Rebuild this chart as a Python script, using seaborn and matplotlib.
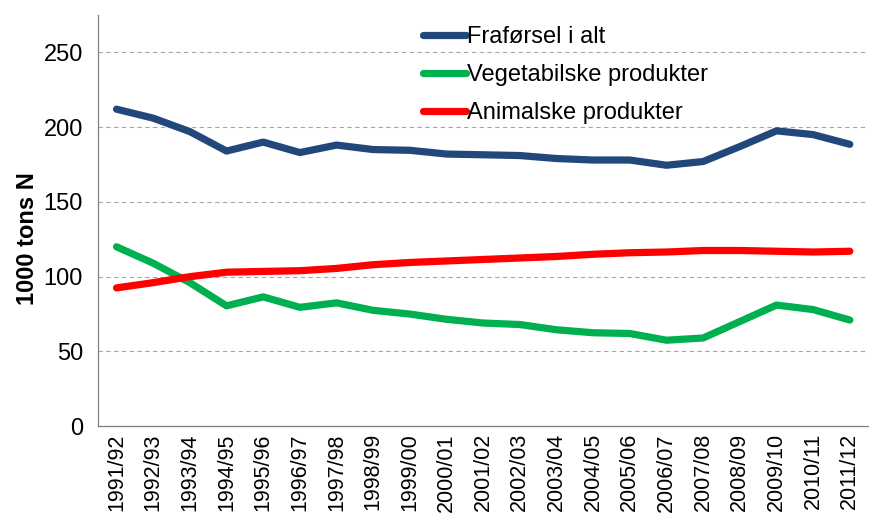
import numpy as np
import pandas as pd
import matplotlib
matplotlib.use("Agg")
import matplotlib.pyplot as plt
import seaborn as sns
from matplotlib.ticker import FixedLocator

seasons = [
    "1991/92", "1992/93", "1993/94", "1994/95", "1995/96", "1996/97", "1997/98",
    "1998/99", "1999/00", "2000/01", "2001/02", "2002/03", "2003/04", "2004/05",
    "2005/06", "2006/07", "2007/08", "2008/09", "2009/10", "2010/11", "2011/12",
]
fraforsel = [212, 206, 197, 184, 190, 183, 188, 185, 184.5, 182, 181.5, 181, 179, 178, 178, 174.5, 177, 187, 197.5, 195, 188.5]
vegetabilske = [120, 109, 96, 80.5, 86.5, 79.5, 82.5, 77.5, 75, 71.5, 69, 68, 64.5, 62.5, 62, 57.5, 59, 70, 81, 78, 71]
animalske = [92.5, 96, 100, 103, 103.5, 104, 105.5, 108, 109.5, 110.5, 111.5, 112.5, 113.5, 115, 116, 116.5, 117.5, 117.5, 117, 116.5, 117]

series_names = ["Fraførsel i alt", "Vegetabilske produkter", "Animalske produkter"]
colors = ["#22487B", "#00B050", "#FF0000"]

rows = []
for name, vals in zip(series_names, [fraforsel, vegetabilske, animalske]):
    for i, v in enumerate(vals):
        rows.append({"pos": i, "season": seasons[i], "value": v, "serie": name})
df = pd.DataFrame(rows)

sns.set_style("white")
plt.rcParams["font.family"] = ["Liberation Sans", "DejaVu Sans"]
plt.rcParams["text.color"] = "black"
plt.rcParams["axes.labelcolor"] = "black"
plt.rcParams["xtick.labelcolor"] = "black"
plt.rcParams["ytick.labelcolor"] = "black"

fig = plt.figure(figsize=(8.69, 5.16), dpi=100)
ax = fig.add_axes([0.113, 0.174, 0.886, 0.797])

sns.lineplot(data=df, x="pos", y="value", hue="serie", hue_order=series_names,
             palette=colors, linewidth=5.2, ax=ax, legend=False,
             solid_capstyle="round")

ax.set_xlim(-0.5, len(seasons) - 0.5)
ax.set_ylim(0, 275)
ax.set_yticks([0, 50, 100, 150, 200, 250])
ax.set_xticks(range(len(seasons)))
ax.set_xticklabels(seasons, rotation=90, fontsize=15.5)
ax.xaxis.set_minor_locator(FixedLocator(np.arange(-0.5, len(seasons), 1)))
ax.tick_params(axis="x", which="major", length=0, pad=5)
ax.tick_params(axis="x", which="minor", length=6, width=0.8, color="#808080", direction="out")
ax.tick_params(axis="y", length=7, width=0.8, color="#808080", direction="out", labelsize=17, pad=4)
ax.yaxis.grid(True, linestyle=(0, (4, 3)), color="#A6A6A6", linewidth=0.8)
ax.set_axisbelow(True)

for s in ["top", "right"]:
    ax.spines[s].set_visible(False)
for s in ["left", "bottom"]:
    ax.spines[s].set_color("#808080")
    ax.spines[s].set_linewidth(0.9)

ax.set_xlabel("")
ax.set_ylabel("1000 tons N", fontsize=17, fontweight="bold")
ax.yaxis.set_label_coords(-0.077, 0.457)

handles = [plt.Line2D([], [], color=c, linewidth=5.2, solid_capstyle="round") for c in colors]
ax.legend(handles, series_names, loc="upper left", bbox_to_anchor=(0.41, 0.995),
          frameon=False, fontsize=17, handlelength=1.8, handletextpad=0.05,
          labelspacing=0.67, borderaxespad=0)

fig.savefig("out.png", dpi=100)
